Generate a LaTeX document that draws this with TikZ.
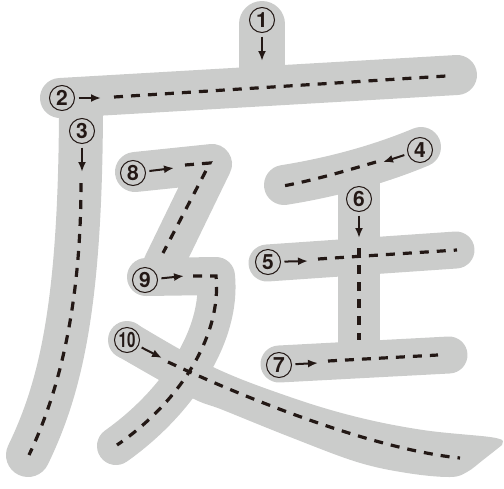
\documentclass[tikz,border=0pt]{standalone}
\usepackage{fontspec}
\setsansfont{TeX Gyre Heros}
\usetikzlibrary{arrows.meta}
\definecolor{inkgray}{HTML}{CBCCCB}
\definecolor{inkdark}{HTML}{231815}
\newcommand{\tennum}{\scalebox{0.72}[1]{10}}

\begin{document}
\begin{tikzpicture}[
  x=0.5pt, y=-0.5pt,
  >={Latex[length=5pt,width=4pt]},
  brush/.style={draw=inkgray, line width=20pt, line cap=round, line join=round},
  guide/.style={draw=inkdark, line width=1.6pt, dash pattern=on 4.5pt off 4pt},
  num/.style={circle, draw=inkdark, line width=0.5pt, minimum size=12.5pt, inner sep=0pt, outer sep=0pt, text=inkdark, font=\sffamily\bfseries\fontsize{10.5}{11}\selectfont},
  arr/.style={->, draw=inkdark, line width=1pt, shorten <=2pt},
]
  \useasboundingbox (0,0) rectangle (504,488);
  % strokes
  \draw[brush, line width=23pt] (262,24) -- (262,78);
  \draw[brush] (60,98) -- (457,75);
  \draw[brush, line width=22pt] (81,100) .. controls (81,300) and (62,385) .. (28,455);
  \draw[brush] (284,185) .. controls (340,176) and (385,162) .. (421,147);
  \draw[brush, line width=21pt] (359,175) -- (359,345);
  \draw[brush, line width=18.5pt] (267,263) -- (456,250);
  \draw[brush, line width=18.5pt] (279,364) -- (449,355);
  \draw[brush] (135,172) -- (212,164) -- (163,265);
  \draw[brush, line width=19pt] (146,277) -- (216,276) .. controls (222,335) and (178,402) .. (116,446);
  \fill[inkgray] (127,340) circle[radius=19];
  \fill[inkgray] plot[smooth, tension=0.6] coordinates {(135,323) (213,367) (290,397) (357,417) (423,430) (490,437) (503,441)}
    -- plot[smooth, tension=0.6] coordinates {(502,445) (483,460) (467,472) (450,477) (407,473) (357,462) (290,437) (223,410) (190,397) (119,357)} -- cycle;
  % dashed guides
  \draw[guide] (114,97) -- (446,76);
  \draw[guide] (81,183) .. controls (81,300) and (61,388) .. (29,455);
  \draw[guide] (376,162) .. controls (345,171) and (315,180) .. (283,186);
  \draw[guide] (318,259) -- (457,250);
  \draw[guide] (359,248) -- (359,340);
  \draw[guide] (328,361) -- (438,355);
  \draw[guide] (185,165) -- (210,163) -- (163,253);
  \draw[guide] (193,276) -- (216,276) .. controls (222,335) and (180,402) .. (117,445);
  \draw[guide] (168,362) .. controls (260,405) and (380,450) .. (460,458);
  % order numbers
  \foreach \n/\t/\x/\y/\ex/\ey in {1/1/262/20/262/61, 2/2/62/98/101/98, 3/3/82/131/82/172,
      4/4/420/150/383/162, 5/5/268/262/308/261, 6/6/359/199/359/238, 7/7/279/365/318/363,
      8/8/133/173/174/168, 9/9/145/280/184/276, 10/\tennum/127/340/162/358} {
    \node[num] (n\n) at (\x,\y) {\t};
    \coordinate (a\n) at (\ex,\ey);
    \draw[arr] (n\n) -- (a\n);
  }
\end{tikzpicture}
\end{document}
